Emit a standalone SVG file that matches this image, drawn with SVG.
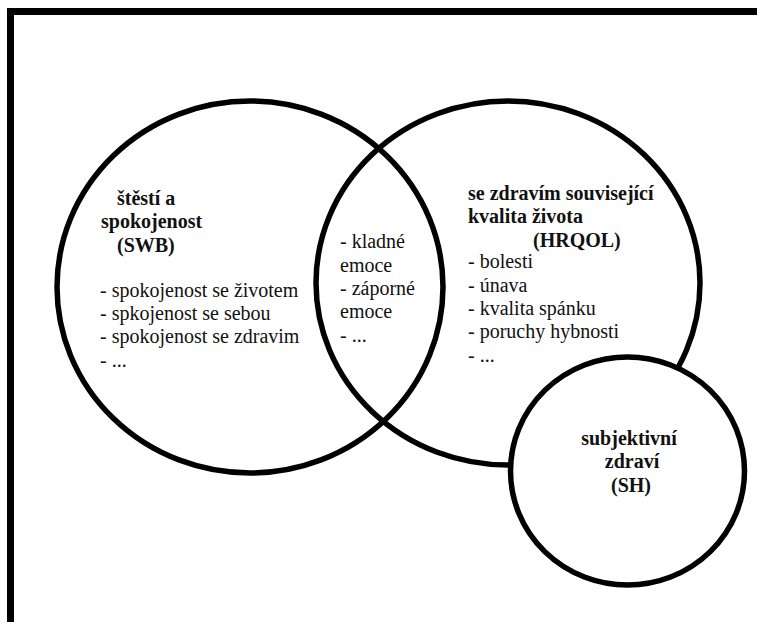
<svg xmlns="http://www.w3.org/2000/svg" width="757" height="622" viewBox="0 0 757 622">
<style>
.ring{fill:none;stroke:#000;stroke-width:5.5}
.lbl{font-family:"Liberation Serif",serif;font-size:20px;fill:#111}
.b{font-weight:bold}
</style>
<rect x="0" y="0" width="757" height="622" fill="#fff"/>
<rect id="frame" x="10.5" y="11.5" width="800" height="700" fill="none" stroke="#000" stroke-width="7"/>
<g id="swb">
<ellipse class="ring" cx="250" cy="287" rx="193" ry="186"/>
<g class="lbl" font-family="Liberation Serif">
<text class="b" x="117" y="205">štěstí a</text>
<text class="b" x="101" y="228">spokojenost</text>
<text class="b" x="117" y="252">(SWB)</text>
<text x="100" y="297">- spokojenost se životem</text>
<text x="100" y="320">- spkojenost se sebou</text>
<text x="100" y="343">- spokojenost se zdravim</text>
<text x="100" y="367">- ...</text>
</g>
</g>
<g id="hrqol">
<ellipse class="ring" cx="508" cy="283" rx="192" ry="182"/>
<g class="lbl" font-family="Liberation Serif">
<text class="b" x="468" y="200">se zdravím související</text>
<text class="b" x="468" y="223">kvalita života</text>
<text class="b" x="533" y="247">(HRQOL)</text>
<text x="468" y="268">- bolesti</text>
<text x="468" y="292">- únava</text>
<text x="468" y="315">- kvalita spánku</text>
<text x="468" y="338">- poruchy hybnosti</text>
<text x="468" y="362">- ...</text>
</g>
</g>
<g id="overlap" class="lbl" font-family="Liberation Serif">
<text x="340" y="248">- kladné</text>
<text x="340" y="272">emoce</text>
<text x="340" y="295">- záporné</text>
<text x="340" y="318">emoce</text>
<text x="340" y="342">- ...</text>
</g>
<g id="sh">
<ellipse class="ring" cx="627.5" cy="471" rx="117" ry="114" style="fill:#fff"/>
<g class="lbl b" font-family="Liberation Serif" text-anchor="middle">
<text x="629" y="445">subjektivní</text>
<text x="632" y="468">zdraví</text>
<text x="631" y="492">(SH)</text>
</g>
</g>
<g id="connectors"/>
</svg>
